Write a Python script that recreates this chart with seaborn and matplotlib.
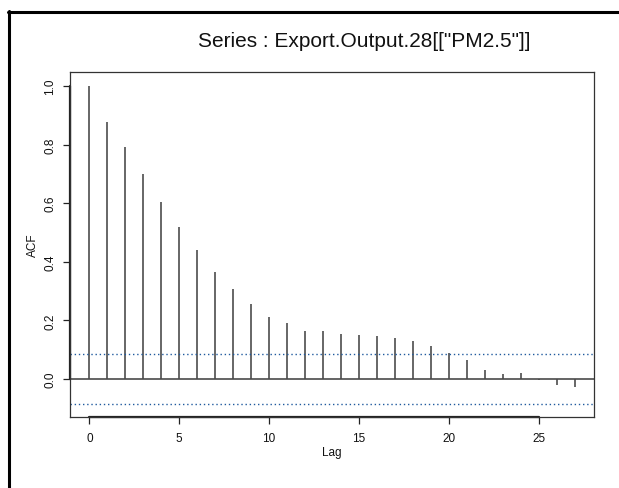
import numpy as np
import matplotlib
matplotlib.use("Agg")
import matplotlib.pyplot as plt
import seaborn as sns
from matplotlib.lines import Line2D

lags = list(range(28))
acf_values = [1.000, 0.876, 0.791, 0.699, 0.603, 0.520, 0.440, 0.366, 0.307,
              0.257, 0.213, 0.190, 0.165, 0.163, 0.152, 0.149, 0.148, 0.139,
              0.130, 0.112, 0.088, 0.065, 0.031, 0.018, 0.019, -0.003, -0.022,
              -0.028]
conf_limit = 0.086
x_ticks = [0, 5, 10, 15, 20, 25]
y_ticks = [0.0, 0.2, 0.4, 0.6, 0.8, 1.0]
title = 'Series : Export.Output.28[["PM2.5"]]'

sns.set_theme(style="white")
plt.rcParams['font.family'] = ['Liberation Sans', 'DejaVu Sans']

W, H = 619, 489
fig = plt.figure(figsize=(W / 100, H / 100), dpi=100)
ax = fig.add_axes([70 / W, 1 - 418 / H, (594 - 70) / W, (418 - 73) / H])

ax.vlines(lags, 0, acf_values, colors="#5a5a5a", linewidth=1.3)
ax.axhline(0, color="#4a4a4a", linewidth=1.2)
for c in (conf_limit, -conf_limit):
    ax.axhline(c, color="#1f5a9e", linewidth=1.0, linestyle=(0, (1, 2)))

ax.set_xlim(-1.08, 28.08)
ax.set_ylim(-0.1297, 1.0478)
ax.set_xticks(x_ticks)
ax.set_xticklabels([str(t) for t in x_ticks])
ax.set_yticks(y_ticks)
ax.set_yticklabels([f"{t:.1f}" for t in y_ticks], rotation=90, va="center")
ax.tick_params(axis="both", direction="out", length=5, width=0.9,
               color="#222222", labelsize=8.5, labelcolor="#111111",
               bottom=True, left=True)
ax.tick_params(axis="x", pad=6)
ax.tick_params(axis="y", pad=5)
for s in ax.spines.values():
    s.set_color("#333333")
    s.set_linewidth(0.9)

# R-style axis lines from first to last tick
ax.plot([0, 25], [-0.1297, -0.1297], color="#222222", lw=1.6, clip_on=False)
ax.plot([-1.08, -1.08], [0, 1.0], color="#222222", lw=1.6, clip_on=False)

ax.set_xlabel("Lag", fontsize=8.5, labelpad=1, color="#111111")
ax.set_ylabel("ACF", fontsize=8.5, labelpad=4, color="#111111")

fig.text(364 / W, 1 - 42 / H, title, ha="center", va="center",
         fontsize=15, color="#111111")

# outer frame (clipped at right and bottom)
fig.add_artist(Line2D([9 / W, 9 / W], [0, 1 - 12 / H], color="black",
                      lw=2.2, transform=fig.transFigure))
fig.add_artist(Line2D([8 / W, 1.0], [1 - 12.5 / H, 1 - 12.5 / H],
                      color="black", lw=2.2, transform=fig.transFigure))

fig.savefig("out.png", dpi=100)
